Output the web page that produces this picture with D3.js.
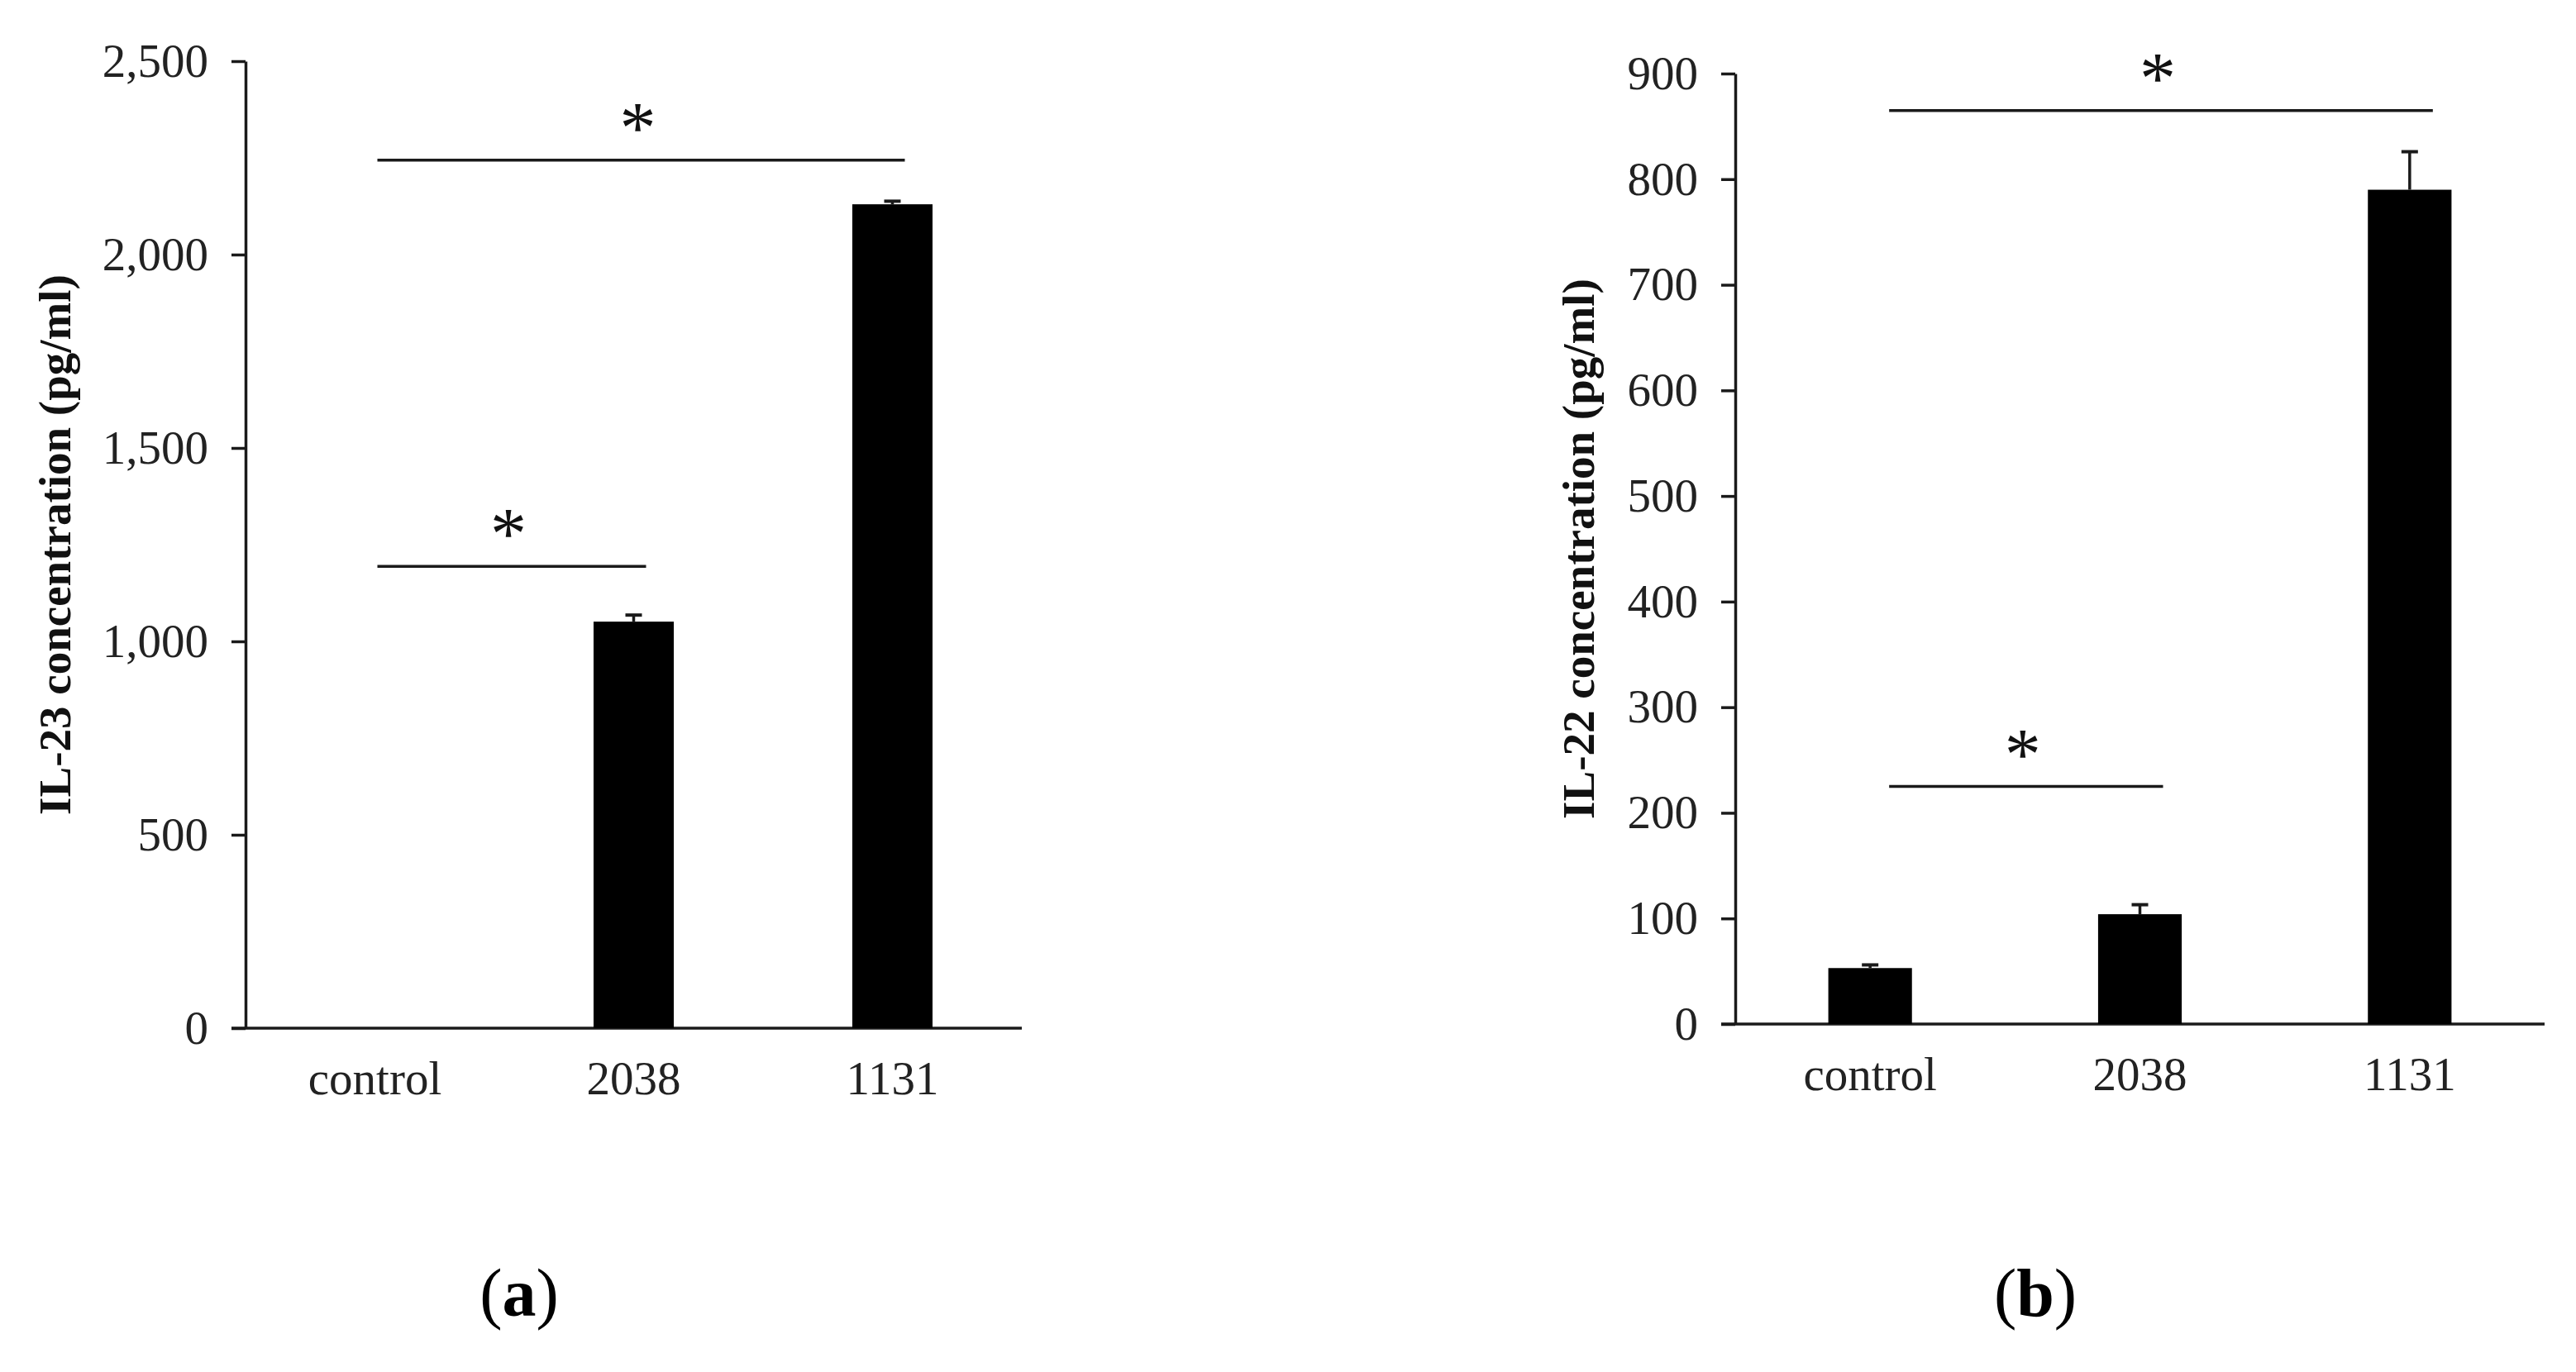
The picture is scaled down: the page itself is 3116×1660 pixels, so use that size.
<!DOCTYPE html>
<html>
<head>
<meta charset="utf-8">
<script src="https://cdn.jsdelivr.net/npm/d3@7"></script>
<style>
  body { margin: 0; background: #fff; }
  svg { display: block; }
  text { font-family: "Liberation Serif", "Times New Roman", serif; }
</style>
</head>
<body>
<svg id="fig" width="3116" height="1660"></svg>
<script>
// data
var categories = ['control', '2038', '1131'];

var il23Means  = [0, 1051, 2130];
var il23Errors = [0, 17, 8];
var il23Ticks  = [0, 500, 1000, 1500, 2000, 2500];
var il23Sig    = [ { from: 'control', to: '1131', y: 2244 },
                   { from: 'control', to: '2038', y: 1194 } ];

var il22Means  = [53, 104, 790];
var il22Errors = [3, 9, 36];
var il22Ticks  = [0, 100, 200, 300, 400, 500, 600, 700, 800, 900];
var il22Sig    = [ { from: 'control', to: '1131', y: 865 },
                   { from: 'control', to: '2038', y: 225 } ];

var panelLabels = ['a', 'b'];

/*************************************************************************/

var svg = d3.select('#fig');
svg.append('rect').attr('width', 3116).attr('height', 1660).attr('fill', '#fff');

var INK = '#1a1a1a';

function drawPanel(p){
  var g = svg.append('g');

  var x = d3.scaleBand().domain(categories).range([p.left, p.right]).paddingInner(0.69).paddingOuter(0.345);
  var y = d3.scaleLinear().domain([0, d3.max(p.ticks)]).range([p.bottom, p.top]);
  var bw = x.bandwidth();

  // y axis
  var yAxis = g.append('g').attr('transform', 'translate(' + p.left + ',0)')
    .call(d3.axisLeft(y).tickValues(p.ticks).tickSize(17).tickSizeOuter(0).tickPadding(28).tickFormat(d3.format(',')));
  yAxis.selectAll('path, line').attr('stroke', INK).attr('stroke-width', 3.5);
  yAxis.selectAll('text').attr('font-size', 57).attr('fill', '#222').attr('font-family', '"Liberation Serif", "Times New Roman", serif');

  // x axis, line runs out to the tick length on the left like the original
  var xAxis = g.append('g').attr('transform', 'translate(0,' + p.bottom + ')')
    .call(d3.axisBottom(x).tickSize(0).tickSizeOuter(0).tickPadding(40));
  xAxis.select('.domain').attr('d', 'M' + (p.left - 17) + ',0H' + p.right)
    .attr('stroke', INK).attr('stroke-width', 3.5);
  xAxis.selectAll('text').attr('font-size', 57).attr('fill', '#222').attr('font-family', '"Liberation Serif", "Times New Roman", serif');

  var rows = categories.map(function(c, i){ return { cat: c, mean: p.means[i], err: p.errors[i] }; });

  // bars
  g.selectAll('.bar').data(rows.filter(function(d){ return d.mean > 0; })).enter().append('rect')
    .attr('x', function(d){ return x(d.cat); })
    .attr('y', function(d){ return y(d.mean); })
    .attr('width', bw)
    .attr('height', function(d){ return y(0) - y(d.mean); })
    .attr('fill', '#000');

  // error bars (upper half only)
  var eb = g.selectAll('.err').data(rows.filter(function(d){ return d.err > 0; })).enter().append('g');
  eb.append('line')
    .attr('x1', function(d){ return x(d.cat) + bw / 2; })
    .attr('x2', function(d){ return x(d.cat) + bw / 2; })
    .attr('y1', function(d){ return y(d.mean); })
    .attr('y2', function(d){ return y(d.mean + d.err); })
    .attr('stroke', INK).attr('stroke-width', 3.5);
  eb.append('line')
    .attr('x1', function(d){ return x(d.cat) + bw / 2 - 10; })
    .attr('x2', function(d){ return x(d.cat) + bw / 2 + 10; })
    .attr('y1', function(d){ return y(d.mean + d.err); })
    .attr('y2', function(d){ return y(d.mean + d.err); })
    .attr('stroke', INK).attr('stroke-width', 4);

  // significance lines + stars
  p.sig.forEach(function(s){
    var x1 = x(s.from) + bw / 2 + p.sigStart;
    var x2 = x(s.to) + bw / 2 + p.sigEnd;
    g.append('line')
      .attr('x1', x1).attr('x2', x2)
      .attr('y1', y(s.y)).attr('y2', y(s.y))
      .attr('stroke', INK).attr('stroke-width', 3.5);
    g.append('text')
      .attr('x', (x1 + x2) / 2 - 4).attr('y', y(s.y) - 10)
      .attr('text-anchor', 'middle')
      .attr('font-size', 88)
      .attr('fill', '#111')
      .text('*');
  });

  // y title
  g.append('text')
    .attr('transform', 'translate(' + p.titleX + ',' + ((p.top + p.bottom) / 2) + ') rotate(-90)')
    .attr('text-anchor', 'middle')
    .attr('font-size', 55)
    .attr('font-weight', 'bold')
    .attr('fill', '#111')
    .text(p.title);

  // panel label
  var lab = svg.append('text')
    .attr('x', p.labelX).attr('y', 1592)
    .attr('text-anchor', 'middle')
    .attr('font-size', 82)
    .attr('fill', '#000');
  lab.append('tspan').text('(');
  lab.append('tspan').attr('font-weight', 'bold').text(p.label);
  lab.append('tspan').text(')');
}

/*************************************************************************/

drawPanel({
  means: il23Means, errors: il23Errors, ticks: il23Ticks, sig: il23Sig,
  title: 'IL-23 concentration (pg/ml)', label: panelLabels[0],
  left: 297, right: 1236, top: 74, bottom: 1244,
  titleX: 85, labelX: 628, sigStart: 3, sigEnd: 15
});

drawPanel({
  means: il22Means, errors: il22Errors, ticks: il22Ticks, sig: il22Sig,
  title: 'IL-22 concentration (pg/ml)', label: panelLabels[1],
  left: 2099, right: 3078, top: 89, bottom: 1239,
  titleX: 1928, labelX: 2462, sigStart: 23, sigEnd: 28
});
</script>
</body>
</html>
